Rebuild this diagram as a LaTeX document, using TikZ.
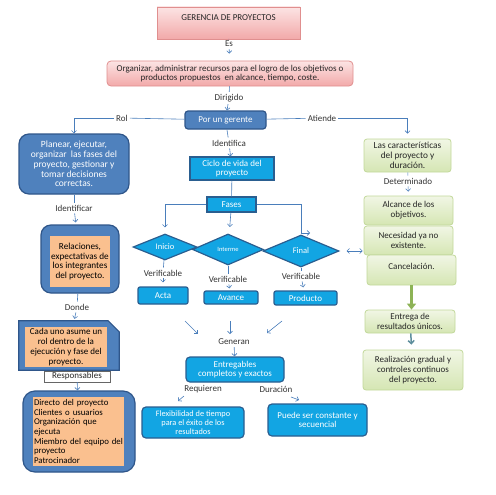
\documentclass[tikz,border=0pt]{standalone}
\usepackage{fontspec}
\setmainfont{Carlito}
\usepackage{tikz}
\usetikzlibrary{shapes.geometric,arrows.meta,calc}

\definecolor{pinktop}{HTML}{FCE4E4}
\definecolor{pinkbot}{HTML}{F2A9A9}
\definecolor{pinkline}{HTML}{E08F8F}
\definecolor{darkblue}{HTML}{4F81BD}
\definecolor{darkline}{HTML}{2F568A}
\definecolor{cyanfill}{HTML}{12A5E3}
\definecolor{cyanline}{HTML}{2A5E90}
\definecolor{greentop}{HTML}{F1F6E5}
\definecolor{greenbot}{HTML}{D5E6B3}
\definecolor{greenline}{HTML}{C2D89A}
\definecolor{greenarrow}{HTML}{8DB356}
\definecolor{peachfill}{HTML}{FAC08F}
\definecolor{lineblue}{HTML}{4A7EBB}

\begin{document}
\begin{tikzpicture}[x=1pt,y=-1pt,
    font=\fontsize{9}{9.8}\selectfont,
    every node/.style={inner sep=1pt,align=center},
    pinkbox/.style={draw=pinkline,top color=pinktop,bottom color=pinkbot,line width=0.8pt,text=black!85},
    darkbox/.style={draw=darkline,fill=darkblue,line width=1.2pt,text=white},
    cyanbox/.style={draw=cyanline,fill=cyanfill,line width=1.2pt,text=white},
    greenbox/.style={draw=greenline,top color=greentop,bottom color=greenbot,line width=0.8pt,text=black!85,rounded corners=3pt},
    peach/.style={fill=peachfill,text=black,inner sep=0pt},
    lbl/.style={text=black!80,inner sep=2pt},
    ln/.style={draw=lineblue,line width=0.6pt},
    arr/.style={ln,-{Straight Barb[length=2.5pt,width=5pt]}}]

    \useasboundingbox (0,0) rectangle (495,495);

    \node[pinkbox,minimum width=143,minimum height=32,text depth=10pt] (ger) at (228.5,23) {GERENCIA DE PROYECTOS};
    \node[lbl] (es) at (229,44) {Es};
    \node[pinkbox,rounded corners=4pt,minimum width=246,minimum height=25] (org) at (230,73.5) {Organizar, administrar recursos para el logro de los objetivos o\\productos propuestos \ en alcance, tiempo, coste.};
    \node[lbl] (dirigido) at (229,98) {Dirigido};
    \node[darkbox,rounded corners=3pt,minimum width=81,minimum height=18] (gerente) at (225.5,120) {Por un gerente};
    \node[lbl] (rol) at (122,118) {Rol};
    \node[lbl] (atiende) at (322,118) {Atiende};

    \node[darkbox,rounded corners=10pt,minimum width=110,minimum height=60,font=\fontsize{9.5}{9.8}\selectfont] (planear) at (74,164) {Planear, ejecutar,\\organizar \ las fases del\\proyecto, gestionar y\\tomar decisiones\\correctas.};
    \node[lbl] (identificar) at (74,208) {Identificar};
    \node[darkbox,rounded corners=10pt,minimum width=78,minimum height=68] (relout) at (80,259) {};
    \node[peach,minimum width=60,minimum height=51,font=\fontsize{9.2}{9.8}\selectfont] (rel) at (80,261.5) {Relaciones,\\expectativas de\\los integrantes\\del proyecto.};
    \node[lbl] (donde) at (77,307) {Donde};
    \node[minimum width=100,minimum height=49,inner sep=0pt] (cadaout) at (69,345.5) {};
    \path[darkbox] (cadaout.south west) |- ($(cadaout.north east)+(-11,0)$) -- ($(cadaout.north east)+(0,11)$) |- cycle;
    \node[peach,minimum width=82,minimum height=40] (cada) at (66,347) {Cada uno asume un\\rol dentro de la\\ejecución y fase del\\proyecto.};
    \node[draw=black!60,fill=white,text=black!85,minimum width=66,minimum height=11,inner sep=0pt] (resp) at (77,376.5) {Responsables};
    \node[darkbox,rounded corners=12pt,minimum width=112,minimum height=81] (botout) at (79,431.5) {};
    \node[peach,minimum width=91,minimum height=69,align=left,text width=89,font=\fontsize{8.8}{9.7}\selectfont] (bot) at (78.5,431.5) {Directo del proyecto\\Clientes o usuarios\\Organización que\\ejecuta\\Miembro del equipo del\\proyecto\\Patrocinador};

    \node[lbl] (identifica) at (229,143) {Identifica};
    \node[cyanbox,minimum width=84,minimum height=23] (ciclo) at (232,168.5) {Ciclo de vida del\\proyecto};
    \node[cyanbox,minimum width=49,minimum height=15] (fases) at (231.5,204.5) {Fases};
    \node[cyanbox,diamond,aspect=2.4,inner sep=0pt,minimum width=64,minimum height=26,font=\fontsize{8.5}{9}\selectfont] (inicio) at (165,247) {Inicio};
    \node[cyanbox,diamond,aspect=2.4,inner sep=0pt,minimum width=71,minimum height=31,font=\fontsize{6.5}{7}\selectfont] (interme) at (228,249.5) {Interme};
    \node[cyanbox,diamond,aspect=2.4,inner sep=0pt,minimum width=76,minimum height=32,font=\fontsize{8.5}{9}\selectfont] (final) at (301,251) {Final};
    \node[lbl] (v1) at (163,273) {Verificable};
    \node[lbl] (v2) at (228,279) {Verificable};
    \node[lbl] (v3) at (301,276) {Verificable};
    \node[cyanbox,rounded corners=2pt,minimum width=50,minimum height=17] (acta) at (163,295.5) {Acta};
    \node[cyanbox,rounded corners=2pt,minimum width=54,minimum height=13] (avance) at (231,297.5) {Avance};
    \node[cyanbox,rounded corners=2pt,minimum width=63,minimum height=14] (producto) at (305.5,298) {Producto};
    \node[lbl] (generan) at (234,342) {Generan};
    \node[cyanbox,rounded corners=4pt,minimum width=98,minimum height=25] (entreg) at (235,369.5) {Entregables\\completos y exactos};
    \node[lbl] (requieren) at (203,389) {Requieren};
    \node[lbl] (duracion) at (276,389) {Duración};
    \node[cyanbox,rounded corners=4pt,minimum width=102,minimum height=31,font=\fontsize{8.3}{9}\selectfont] (flex) at (193,422.5) {Flexibilidad de tiempo\\para el éxito de los\\resultados};
    \node[cyanbox,rounded corners=4pt,minimum width=99,minimum height=32] (puede) at (317.5,420) {Puede ser constante y\\secuencial};

    \node[greenbox,minimum width=87,minimum height=33,font=\fontsize{9.3}{9.7}\selectfont] (carac) at (407.5,155.5) {Las características\\del proyecto y\\duración.};
    \node[lbl] (determinado) at (408,181) {Determinado};
    \node[greenbox,minimum width=89,minimum height=29] (alcance) at (408.5,210.5) {Alcance de los\\objetivos.};
    \node[greenbox,minimum width=89,minimum height=29] (nec) at (408.5,240.5) {Necesidad ya no\\existente.};
    \node[greenbox,minimum width=89,minimum height=30,text depth=8pt] (canc) at (411.5,270) {Cancelación.};
    \node[greenbox,minimum width=90,minimum height=23] (entrega) at (410,321.5) {Entrega de\\resultados únicos.};
    \node[greenbox,minimum width=100,minimum height=40] (real) at (413,370) {Realización gradual y\\controles continuos\\del proyecto.};

    \coordinate (fk) at (301,233);
    \coordinate (fk2) at (310,233);
    \coordinate (g1) at (185,321);
    \coordinate (g1e) at (198,334);
    \coordinate (g2) at (230,321);
    \coordinate (g2e) at (230,334);
    \coordinate (g3) at (282,321);
    \coordinate (g3e) at (267,333);
    \coordinate (r1) at (184,396);
    \coordinate (r1e) at (178,401);
    \coordinate (d1) at (291,397);
    \coordinate (d1e) at (299,400);

    \path (ger) edge[ln] (es);
    \path (es) edge[arr,shorten >=7pt] (org);
    \path (org) edge[ln] (dirigido);
    \path (dirigido) edge[arr] (gerente);
    \path (gerente) edge[ln] (rol);
    \path (gerente) edge[ln] (atiende);
    \draw[arr] (rol) -| (planear);
    \draw[arr,shorten >=5pt] (atiende) -| (carac);

    \path (planear) edge[ln] (identificar);
    \path (identificar) edge[arr,shorten >=2pt] (relout);
    \path (relout) edge[ln] (donde);
    \path (donde) edge[arr,shorten >=2pt] (cadaout);
    \path (resp) edge[arr] (botout);

    \path (gerente) edge[ln] (identifica);
    \path (identifica) edge[arr] (ciclo);
    \path (ciclo) edge[ln] (fases);
    \draw[arr,shorten >=6pt] (fases.west) -| (inicio.north);
    \path (fases) edge[arr,shorten >=7pt] (interme);
    \draw[ln] (fases.east) -| (fk);
    \path (fk) edge[arr] (fk2);
    \draw[ln,{Straight Barb[length=2.5pt,width=5pt]}-{Straight Barb[length=2.5pt,width=5pt]},shorten <=7pt,shorten >=1pt] (final.east) -- (final.east -| nec.west);

    \path (inicio) edge[ln] (v1);
    \path (v1) edge[arr,shorten >=4pt] (acta);
    \path (interme) edge[ln] (v2);
    \path (v2) edge[arr,shorten >=2pt] (avance);
    \path (final) edge[ln] (v3);
    \path (v3) edge[arr,shorten >=3pt] (producto);

    \path (g1) edge[arr] (g1e);
    \path (g2) edge[arr] (g2e);
    \path (g3) edge[arr] (g3e);
    \path (generan) edge[arr] (entreg);
    \path (r1) edge[arr] (r1e);
    \path (d1) edge[arr] (d1e);

    \path (carac) edge[ln] (determinado);
    \path (determinado) edge[arr,shorten >=4pt] (alcance);
    \draw[draw=greenarrow,line width=3pt,-{Triangle[length=6pt,width=9pt]}] (canc.south) -- (canc.south |- entrega.north);
    \draw[draw=lineblue!70!greenarrow,line width=1.5pt,-{Straight Barb[length=3pt,width=6pt]},shorten >=5pt] (entrega) -- (real);

\end{tikzpicture}
\end{document}
